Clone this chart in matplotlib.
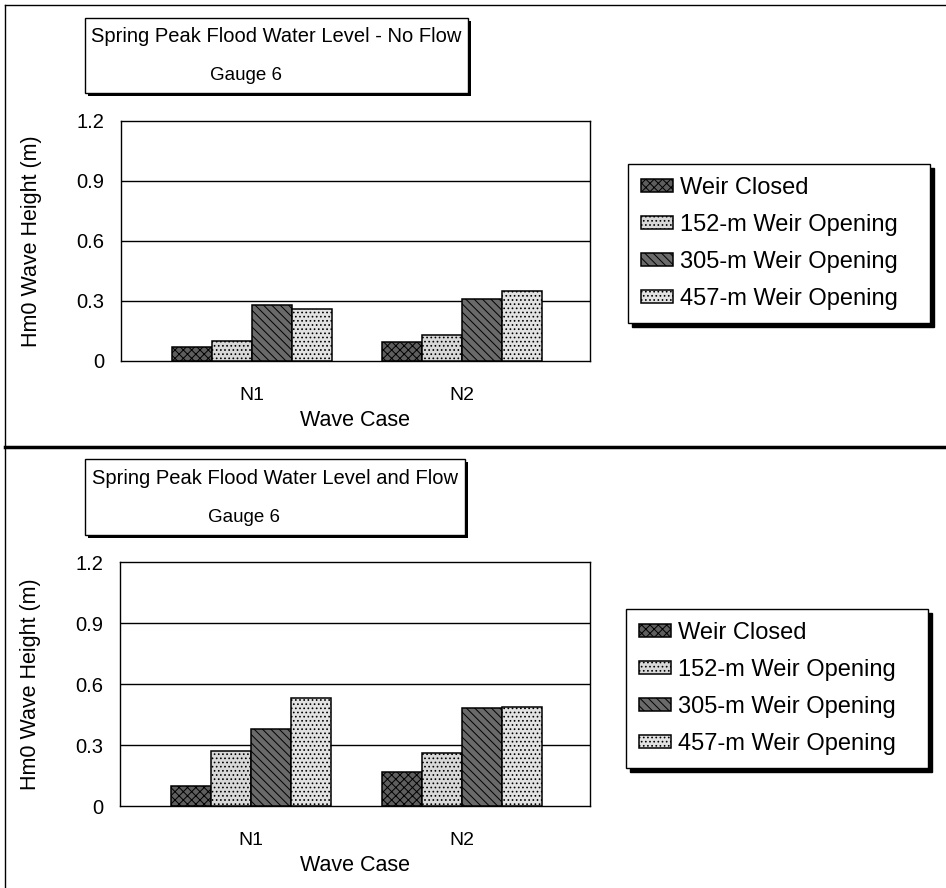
import matplotlib
matplotlib.use("Agg")
import matplotlib.pyplot as plt
import numpy as np
from matplotlib.patches import Rectangle
from matplotlib.lines import Line2D

plt.rcParams['font.family'] = ['Liberation Sans', 'DejaVu Sans']
plt.rcParams['hatch.linewidth'] = 0.7

# ---------------- data ----------------
categories = ["N1", "N2"]
series_names = ["Weir Closed", "152-m Weir Opening", "305-m Weir Opening", "457-m Weir Opening"]
no_flow_closed = [0.07, 0.095]
no_flow_152 = [0.10, 0.13]
no_flow_305 = [0.28, 0.31]
no_flow_457 = [0.26, 0.35]
flow_closed = [0.10, 0.165]
flow_152 = [0.27, 0.26]
flow_305 = [0.38, 0.48]
flow_457 = [0.53, 0.485]
ytick_values = [0, 0.3, 0.6, 0.9, 1.2]
ytick_labels = ["0", "0.3", "0.6", "0.9", "1.2"]
title_top = "Spring Peak Flood Water Level - No Flow"
title_bottom = "Spring Peak Flood Water Level and Flow"
subtitle = "Gauge 6"

styles = [
    dict(facecolor="#5e5e5e", hatch="xxxx"),
    dict(facecolor="#d8d8d8", hatch="...."),
    dict(facecolor="#6a6a6a", hatch="\\\\\\\\"),
    dict(facecolor="#e2e2e2", hatch="...."),
]

W, H = 946, 888
fig = plt.figure(figsize=(W / 100, H / 100), dpi=100)


def fx(p):
    return p / W


def fy(p):
    return 1 - p / H


# outer frame lines
fig.add_artist(Line2D([fx(5), fx(5)], [fy(5), fy(888)], transform=fig.transFigure, color="black", lw=1))
fig.add_artist(Line2D([fx(5), fx(946)], [fy(5), fy(5)], transform=fig.transFigure, color="black", lw=1))
fig.add_artist(Line2D([fx(5), fx(946)], [fy(447), fy(447)], transform=fig.transFigure, color="black", lw=2.5))


def title_box(x0, y0, x1, y1, title, size):
    fig.add_artist(Rectangle((fx(x0 + 3), fy(y1 + 3)), (x1 - x0) / W, (y1 - y0) / H,
                             transform=fig.transFigure, facecolor="black", edgecolor="black", lw=0))
    fig.add_artist(Rectangle((fx(x0), fy(y1)), (x1 - x0) / W, (y1 - y0) / H,
                             transform=fig.transFigure, facecolor="white", edgecolor="black", lw=1))
    fig.text(fx((x0 + x1) / 2), fy(y0 + 19), title, ha="center", va="center", fontsize=size)
    fig.text(fx((x0 + x1) / 2 - 31), fy(y0 + 58), subtitle, ha="center", va="center", fontsize=13.5)


def panel(ax_rect, data, legend_rect):
    ax = fig.add_axes(ax_rect)
    x = np.arange(len(categories))
    w = 0.19
    for i, (vals, st) in enumerate(zip(data, styles)):
        ax.bar(x + (i - 1.5) * w, vals, width=w, edgecolor="black", linewidth=1.1,
               label=series_names[i], zorder=3, **st)
    ax.set_ylim(0, 1.2)
    ax.set_xlim(-0.624, 1.61)
    ax.set_yticks(ytick_values)
    ax.set_yticklabels(ytick_labels, fontsize=14.5)
    ax.set_xticks(x)
    ax.set_xticklabels(categories, fontsize=14)
    ax.tick_params(axis="both", length=0)
    ax.tick_params(axis="y", pad=12)
    ax.tick_params(axis="x", pad=19)
    for yv in ytick_values[1:-1]:
        ax.axhline(yv, color="black", lw=1, zorder=1)
    for s in ax.spines.values():
        s.set_color("black")
        s.set_linewidth(1)
    ax.set_ylabel("Hm0 Wave Height (m)", fontsize=15.5)
    ax.yaxis.set_label_coords(-0.168, 0.5)
    ax.set_xlabel("Wave Case", fontsize=15.5, labelpad=4)
    lx0, ly0, lx1, ly1 = legend_rect
    leg = ax.legend(loc="upper left", mode="expand",
                    bbox_to_anchor=(fx(lx0), fy(ly1), (lx1 - lx0) / W, (ly1 - ly0) / H),
                    bbox_transform=fig.transFigure, borderaxespad=0, fontsize=17, frameon=True,
                    fancybox=False, edgecolor="black", framealpha=1, borderpad=0.55,
                    handlelength=1.35, handleheight=0.45, handletextpad=0.3, labelspacing=0.63,
                    shadow={"ox": 3, "oy": -3, "color": "black", "alpha": 1})
    leg.get_frame().set_linewidth(1)
    return ax


title_box(85, 18, 468, 93, title_top, 14.5)
panel([fx(121), fy(361), (590 - 121) / W, (361 - 121) / H],
      [no_flow_closed, no_flow_152, no_flow_305, no_flow_457], (628, 164, 930, 322))

title_box(85, 459, 465, 535, title_bottom, 14.5)
panel([fx(120), fy(806), (590 - 120) / W, (806 - 562) / H],
      [flow_closed, flow_152, flow_305, flow_457], (626, 609, 928, 768))

fig.savefig("out.png", dpi=100)
